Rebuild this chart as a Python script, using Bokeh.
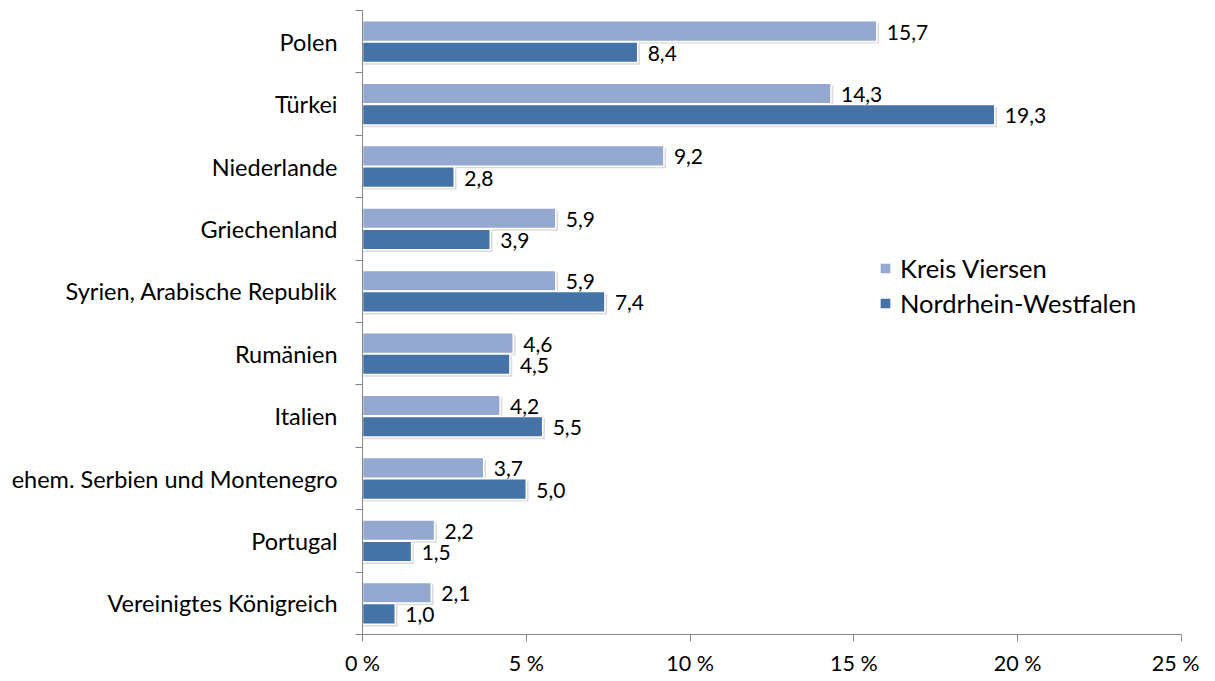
from bokeh.plotting import figure
from bokeh.models import (Range1d, FixedTicker, Legend, LegendItem, LinearAxis)
from bokeh.core.properties import value
from bokeh.embed import file_html
from bokeh.resources import INLINE

countries = ["Polen", "Türkei", "Niederlande", "Griechenland",
             "Syrien, Arabische Republik", "Rumänien", "Italien",
             "ehem. Serbien und Montenegro", "Portugal", "Vereinigtes Königreich"]
kreis_viersen = [15.7, 14.3, 9.2, 5.9, 5.9, 4.6, 4.2, 3.7, 2.2, 2.1]
nrw = [8.4, 19.3, 2.8, 3.9, 7.4, 4.5, 5.5, 5.0, 1.5, 1.0]
x_ticks = [0, 5, 10, 15, 20, 25]
x_tick_labels = ["0 %", "5 %", "10 %", "15 %", "20 %", "25 %"]

FONT = "Lato"
LIGHT = "#94A8D0"
DARK = "#4573A7"
AXIS = "#878787"

n = len(countries)
centers = [n - 0.5 - i for i in range(n)]
off = 0.17
h = 0.33
y_light = [c + off for c in centers]
y_dark = [c - off for c in centers]

p = figure(width=1199, height=680, output_backend="svg", toolbar_location=None,
           x_range=Range1d(0, 25), y_range=Range1d(0, n),
           min_border_left=362, min_border_right=18, min_border_top=10,
           min_border_bottom=46, x_axis_type=None, y_axis_type=None)
p.outline_line_color = None
p.xgrid.visible = False
p.ygrid.visible = False

# shadows
dx, dy = 0.07, 0.035
p.hbar(y=[v - dy for v in y_light], left=0, right=[v + dx for v in kreis_viersen], height=h,
       fill_color="#b0b0b0", fill_alpha=0.45, line_color=None)
p.hbar(y=[v - dy for v in y_dark], left=0, right=[v + dx for v in nrw], height=h,
       fill_color="#b0b0b0", fill_alpha=0.45, line_color=None)

r1 = p.hbar(y=y_light, left=0, right=kreis_viersen, height=h,
            fill_color=LIGHT, line_color="white", line_width=1.5)
r2 = p.hbar(y=y_dark, left=0, right=nrw, height=h,
            fill_color=DARK, line_color="white", line_width=1.5)

fmt = lambda v: f"{v:.1f}".replace(".", ",")
p.text(x=kreis_viersen, y=y_light, text=[fmt(v) for v in kreis_viersen],
       x_offset=10, y_offset=1, text_baseline="middle", text_align="left",
       text_font=value(FONT), text_font_size="21px", text_color="black")
p.text(x=nrw, y=y_dark, text=[fmt(v) for v in nrw],
       x_offset=10, y_offset=1, text_baseline="middle", text_align="left",
       text_font=value(FONT), text_font_size="21px", text_color="black")

# x axis
xa = LinearAxis(ticker=FixedTicker(ticks=x_ticks, minor_ticks=[]),
                major_label_overrides={t: l for t, l in zip(x_ticks, x_tick_labels)})
xa.axis_line_color = AXIS
xa.major_tick_line_color = AXIS
xa.major_tick_out = 7
xa.major_tick_in = 0
xa.major_label_standoff = 8
xa.major_label_text_font = FONT
xa.major_label_text_font_size = "21.5px"
xa.major_label_text_color = "black"
p.add_layout(xa, "below")

# y axis: labels at centers, ticks at boundaries (minor)
ya = LinearAxis(ticker=FixedTicker(ticks=centers, minor_ticks=list(range(n + 1))),
                major_label_overrides={c: name for c, name in zip(centers, countries)})
ya.axis_line_color = AXIS
ya.major_tick_line_color = None
ya.major_tick_out = 0
ya.major_tick_in = 0
ya.minor_tick_line_color = AXIS
ya.minor_tick_out = 7
ya.minor_tick_in = 0
ya.major_label_standoff = 18
ya.major_label_text_font = FONT
ya.major_label_text_font_size = "23.5px"
ya.major_label_text_color = "black"
p.add_layout(ya, "left")

legend = Legend(items=[LegendItem(label="Kreis Viersen", renderers=[r1]),
                       LegendItem(label="Nordrhein-Westfalen", renderers=[r2])],
                location=(516, 316))
legend.padding = 0
legend.margin = 0
legend.border_line_color = None
legend.background_fill_alpha = 0
legend.glyph_width = 14
legend.glyph_height = 14
legend.label_height = 30
legend.spacing = 5
legend.label_standoff = 8
legend.label_text_font = FONT
legend.label_text_font_size = "25.5px"
legend.label_text_color = "black"
p.add_layout(legend, "center")

open("out.html", "w").write(file_html(p, INLINE))
